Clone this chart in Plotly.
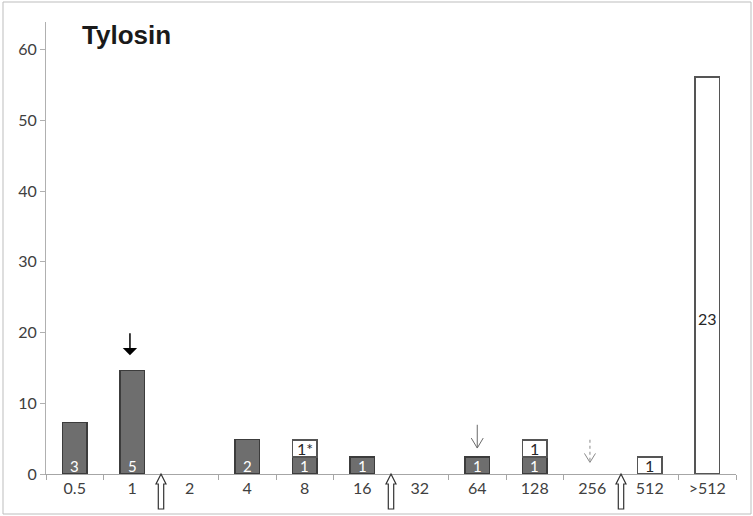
import plotly.graph_objects as go

# ---- data (percent of isolates per MIC class) ----
categories = ['0.5', '1', '2', '4', '8', '16', '32', '64', '128', '256', '512', '>512']
grey_values = [7.3, 14.6, 0, 4.9, 2.4, 2.4, 0, 2.4, 2.4, 0, 0, 0]
white_values = [0, 0, 0, 0, 2.4, 0, 0, 0, 2.4, 0, 2.4, 56.1]
grey_labels = ['3', '5', '', '2', '1', '1', '', '1', '1', '', '', '']
white_labels = ['', '', '', '', '1*', '', '', '', '1', '', '1', '23']
y_ticks = [0, 10, 20, 30, 40, 50, 60]
title_text = 'Tylosin'

FONT = 'Lato, Carlito, Calibri, sans-serif'
BAR_W = 0.42


def nz(vals):
    return [v if v else None for v in vals]


fig = go.Figure()
fig.add_trace(go.Bar(
    x=categories, y=nz(grey_values), width=BAR_W,
    marker=dict(color='#6e6e6e', line=dict(color='#3c3c3c', width=1.5)),
    showlegend=False, hoverinfo='skip'))
fig.add_trace(go.Bar(
    x=categories, y=nz(white_values), width=BAR_W,
    marker=dict(color='#ffffff', line=dict(color='#555555', width=1.5)),
    showlegend=False, hoverinfo='skip'))

annotations = []
# labels inside bars (x given as category index)
for i, (g, w, gl, wl) in enumerate(zip(grey_values, white_values, grey_labels, white_labels)):
    if gl:
        annotations.append(dict(x=i, y=1.1, text=gl, showarrow=False, height=14,
                                font=dict(family=FONT, size=15, color='#ffffff'),
                                xref='x', yref='y'))
    if wl:
        yy = g + (w / 2 + 0.1 if w < 10 else w * 0.394)
        annotations.append(dict(x=i, y=yy, text=wl, showarrow=False, height=14,
                                font=dict(family=FONT, size=16, color='#262626'),
                                xref='x', yref='y'))

# black down arrow above MIC 1
annotations.append(dict(x=0.96, y=16.8, ax=0.96, ay=20.1, xref='x', yref='y',
                        axref='x', ayref='y', showarrow=True, text='',
                        arrowhead=1, arrowsize=1.6, arrowwidth=1.5, arrowcolor='#000000'))

# title
annotations.append(dict(x=0.049, y=0.972, xref='paper', yref='paper', xanchor='left',
                        yanchor='middle', text='<b>' + title_text + '</b>', showarrow=False,
                        font=dict(family='Liberation Sans, Arial, sans-serif', size=26,
                                  color='#1a1a1a')))

shapes = []


def open_down_arrow(xc, y_top, y_tip, hw, hh, color, dash):
    out = [dict(type='line', xref='x', yref='y', x0=xc, x1=xc, y0=y_top, y1=y_tip,
                line=dict(color=color, width=1, dash=dash))]
    out.append(dict(type='path', xref='x', yref='y',
                    path=f'M {xc - hw},{y_tip + hh} L {xc},{y_tip} L {xc + hw},{y_tip + hh}',
                    line=dict(color=color, width=1)))
    return out


shapes += open_down_arrow(7, 6.96, 3.67, 0.104, 1.41, '#6a6a6a', 'solid')
shapes += open_down_arrow(8.96, 4.84, 1.64, 0.096, 1.27, '#8a8a8a', 'dot')

PH = 452.0


def block_up_arrow(xc):
    hw_head, hw_shaft = 0.087, 0.047
    y_tip, y_head, y_bot = 0.0, -10 / PH, -35 / PH
    p = (f'M {xc},{y_tip} L {xc + hw_head},{y_head} L {xc + hw_shaft},{y_head} '
         f'L {xc + hw_shaft},{y_bot} L {xc - hw_shaft},{y_bot} L {xc - hw_shaft},{y_head} '
         f'L {xc - hw_head},{y_head} Z')
    return dict(type='path', xref='x', yref='paper', path=p,
                fillcolor='#ffffff', line=dict(color='#333333', width=1.2), layer='above')


for xc in [1.5, 5.5, 9.5]:
    shapes.append(block_up_arrow(xc))

# outer frame
shapes.append(dict(type='rect', xref='paper', yref='paper',
                   x0=(3 - 46) / 690, x1=(751 - 46) / 690,
                   y0=(474 - 514) / PH, y1=(474 - 2) / PH,
                   line=dict(color='#bdbdbd', width=1), fillcolor='rgba(0,0,0,0)'))

fig.update_layout(
    barmode='stack',
    width=753, height=516,
    margin=dict(l=46, r=17, t=22, b=42),
    paper_bgcolor='#ffffff', plot_bgcolor='#ffffff',
    annotations=annotations, shapes=shapes,
    font=dict(family=FONT, size=16, color='#404040'),
)
fig.update_xaxes(
    type='category', categoryorder='array', categoryarray=categories,
    showline=True, linecolor='#a6a6a6', linewidth=1,
    ticks='outside', tickson='boundaries', ticklen=5, tickcolor='#a6a6a6',
    showgrid=False, zeroline=False,
    tickfont=dict(family=FONT, size=16, color='#404040'),
    range=[-0.5, 11.5])
fig.update_yaxes(
    range=[0, 63.9], tickvals=y_ticks,
    showline=True, linecolor='#b0b0b0', linewidth=1,
    ticks='outside', ticklen=5, tickcolor='#b0b0b0',
    showgrid=False, zeroline=False,
    tickfont=dict(family=FONT, size=16, color='#404040'))

fig.write_html('out.html', config={'displayModeBar': False},
               post_script="document.body.style.margin='0';")
